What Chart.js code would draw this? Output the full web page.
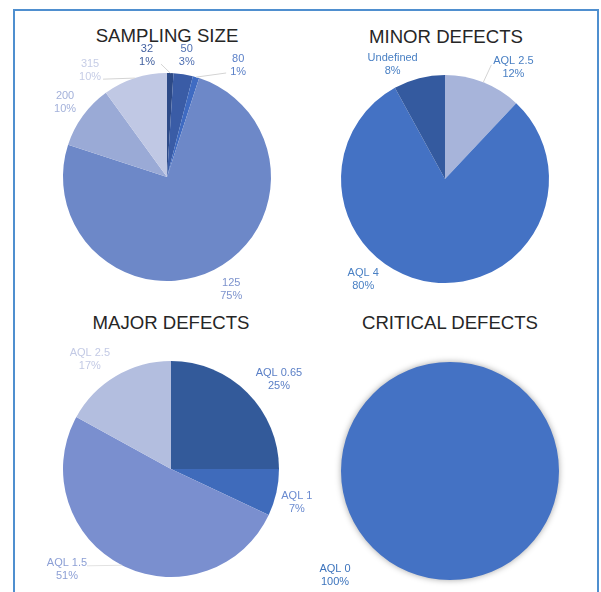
<!DOCTYPE html>
<html>
<head>
<meta charset="utf-8">
<script src="https://cdn.jsdelivr.net/npm/chart.js@4/dist/chart.umd.min.js"></script>
<style>
  html, body { margin: 0; padding: 0; background: #ffffff; }
  #board { position: relative; width: 601px; height: 592px; overflow: hidden; background: #ffffff; }
  #frame { position: absolute; left: 13px; top: 9px; width: 582px; height: 700px;
           border: 2px solid #4f8fcf; box-sizing: content-box; }
  canvas { position: absolute; left: 0; top: 0; }
  .title { position: absolute; width: 300px; text-align: center; font-family: "Liberation Sans", Arial, sans-serif;
           font-size: 18.6px; line-height: 19px; color: #262626; white-space: nowrap; }
</style>
</head>
<body>
<div id="board">
  <div id="frame"></div>
  <div class="title" style="left:17px;top:26px;">SAMPLING SIZE</div>
  <div class="title" style="left:296px;top:27px;">MINOR DEFECTS</div>
  <div class="title" style="left:21px;top:313px;">MAJOR DEFECTS</div>
  <div class="title" style="left:300px;top:313px;">CRITICAL DEFECTS</div>
  <canvas id="c1"></canvas>
  <canvas id="c2"></canvas>
  <canvas id="c3"></canvas>
  <canvas id="c4"></canvas>
</div>
<script>
// Sampling sizes (share of inspections, %)
const samplingLabels = ['32', '50', '80', '125', '200', '315'];
const samplingValues = [1, 3, 1, 75, 10, 10];

// Minor defects AQL (%)
const minorLabels = ['AQL 2.5', 'AQL 4', 'Undefined'];
const minorValues = [12, 80, 8];

// Major defects AQL (%)
const majorLabels = ['AQL 0.65', 'AQL 1', 'AQL 1.5', 'AQL 2.5'];
const majorValues = [25, 7, 51, 17];

// Critical defects AQL (%)
const criticalLabels = ['AQL 0'];
const criticalValues = [100];

const FONT = '"Liberation Sans", Arial, sans-serif';
const W = 601, H = 592;

// Draws "category / percent" labels outside each slice, with optional leader lines.
const sliceLabels = {
  id: 'sliceLabels',
  afterDatasetsDraw(chart, args, opts) {
    const ctx = chart.ctx;
    const meta = chart.getDatasetMeta(0);
    const labels = chart.data.labels;
    const values = chart.data.datasets[0].data;
    const total = values.reduce((a, b) => a + b, 0);
    ctx.save();
    ctx.font = '11px ' + FONT;
    ctx.textAlign = 'center';
    ctx.textBaseline = 'middle';
    meta.data.forEach((arc, i) => {
      const p = arc.getProps(['x', 'y', 'startAngle', 'endAngle', 'outerRadius'], true);
      const mid = (p.startAngle + p.endAngle) / 2;
      const dist = p.outerRadius + opts.gap;
      const nudge = (opts.nudges && opts.nudges[i]) || [0, 0];
      const lx = p.x + Math.cos(mid) * dist + nudge[0];
      const ly = p.y + Math.sin(mid) * dist + nudge[1];
      const lead = opts.leaders && opts.leaders[i];
      if (lead) {
        const ex = p.x + Math.cos(mid) * p.outerRadius;
        const ey = p.y + Math.sin(mid) * p.outerRadius;
        ctx.strokeStyle = opts.leaderColor;
        ctx.lineWidth = 1;
        ctx.beginPath();
        ctx.moveTo(lx + lead[0], ly + lead[1]);
        ctx.lineTo(ex, ey);
        ctx.stroke();
      }
      ctx.fillStyle = Array.isArray(opts.colors) ? opts.colors[i] : opts.colors;
      const pct = Math.round(values[i] / total * 100) + '%';
      ctx.fillText(labels[i], lx, ly - opts.lineGap / 2);
      ctx.fillText(pct, lx, ly + opts.lineGap / 2);
    });
    ctx.restore();
  }
};

// Soft drop shadow under the slices when enabled.
const pieShadow = {
  id: 'pieShadow',
  beforeDatasetDraw(chart, args, opts) {
    if (!opts.enabled) return;
    const ctx = chart.ctx;
    ctx.save();
    ctx.shadowColor = opts.color;
    ctx.shadowBlur = opts.blur;
    ctx.shadowOffsetX = 0;
    ctx.shadowOffsetY = 0;
  },
  afterDatasetDraw(chart, args, opts) {
    if (!opts.enabled) return;
    chart.ctx.restore();
  }
};

function makePie(id, labels, values, sliceColors, radius, padding, labelOpts, shadow) {
  const cv = document.getElementById(id);
  cv.width = W; cv.height = H;
  cv.style.width = W + 'px'; cv.style.height = H + 'px';
  return new Chart(cv, {
    type: 'pie',
    data: {
      labels: labels,
      datasets: [{
        data: values,
        backgroundColor: sliceColors,
        borderWidth: 0,
        hoverOffset: 0,
        offset: 0
      }]
    },
    options: {
      responsive: false,
      animation: false,
      events: [],
      radius: radius,
      layout: { padding: padding },
      plugins: {
        legend: { display: false },
        tooltip: { enabled: false },
        title: { display: false },
        sliceLabels: Object.assign({ gap: 22, lineGap: 13, leaderColor: '#d4d4d4' }, labelOpts),
        pieShadow: shadow || { enabled: false }
      }
    },
    plugins: [sliceLabels, pieShadow]
  });
}

makePie('c1', samplingLabels, samplingValues,
  ['#2d4a87', '#3a5ca6', '#3f6bc2', '#6d88c8', '#9aaad6', '#c0c8e4'],
  104, { left: 63, top: 73, right: 330, bottom: 311 },
  {
    colors: ['#42609f', '#5070b2', '#5b80c8', '#7d93cd', '#a3b1da', '#c6cde6'],
    nudges: [[-24, 4], [0, 3], [36, 9], [7, 0], [0, 0], [-38, 13]],
    leaders: { 0: [14, 9], 2: [-12, 8], 5: [13, 9] }
  });

makePie('c2', minorLabels, minorValues,
  ['#a7b4da', '#4472c4', '#345a9f'],
  104, { left: 341, top: 75, right: 52, bottom: 309 },
  {
    colors: '#4a80c4',
    nudges: [[22, 6], [-66, -25], [-21, 8]],
    leaders: { 0: [-22, -3] }
  });

makePie('c3', majorLabels, majorValues,
  ['#335a9a', '#3f6bbb', '#7a8fcf', '#b3bedf'],
  108, { left: 63, top: 361, right: 322, bottom: 15 },
  {
    colors: ['#5a7fc6', '#6b8bd0', '#8c9fd5', '#c3cae5'],
    nudges: [[16, 2], [-1, 5], [-45, -15], [-15, 2]],
    leaders: { 2: [20, -4] },
    leaderColor: '#e2e2e2'
  });

makePie('c4', criticalLabels, criticalValues,
  ['#4472c4'],
  109, { left: 341, top: 362, right: 42, bottom: 12 },
  {
    colors: '#3d74bd',
    nudges: [[-115, -27]]
  },
  { enabled: true, color: 'rgba(0,0,0,0.35)', blur: 6 });
</script>
</body>
</html>
